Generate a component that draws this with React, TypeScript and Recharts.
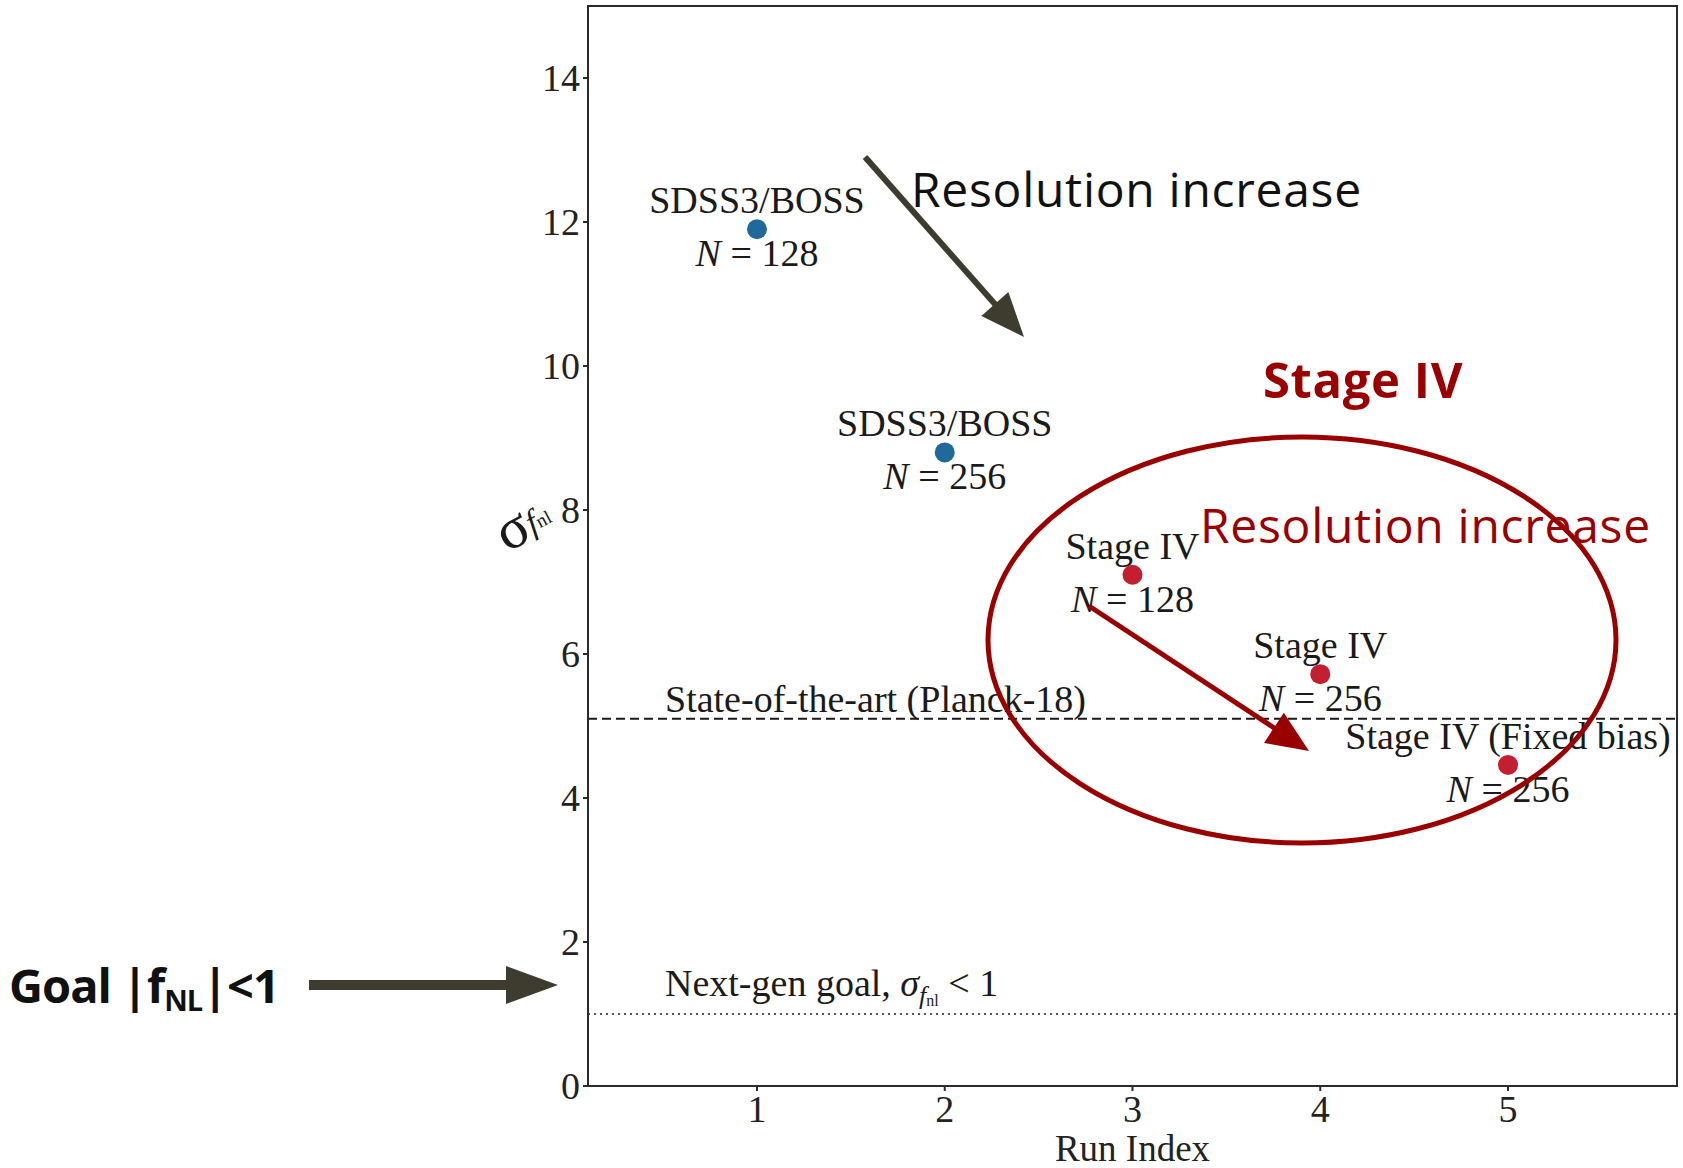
import {
  ReferenceArea,
  ReferenceLine,
  Scatter,
  ScatterChart,
  XAxis,
  YAxis,
} from 'recharts'

// values
const runIndex = [1, 2, 3, 4, 5]
const sigmaFnl = [11.9, 8.8, 7.1, 5.72, 4.46]
const surveyLabels = ['SDSS3/BOSS', 'SDSS3/BOSS', 'Stage IV', 'Stage IV', 'Stage IV (Fixed bias)']
const meshSizes = [128, 256, 128, 256, 256]
const xTicks = [1, 2, 3, 4, 5]
const yTicks = [0, 2, 4, 6, 8, 10, 12, 14]
const planckSigma = 5.1
const nextGenSigma = 1

const W = 1683
const H = 1168
const X_DOMAIN: [number, number] = [0.1, 5.9]
const Y_DOMAIN: [number, number] = [0, 15]
const SERIF = '"Liberation Serif", "DejaVu Serif", serif'
const SANS = '"Open Sans", "Noto Sans", sans-serif'
const AXIS_COLOR = '#2b2b2b'
const DARK_RED = '#990000'
const OLIVE = '#3d3c2e'

const data = runIndex.map((x, i) => ({
  x,
  y: sigmaFnl[i],
  survey: surveyLabels[i],
  n: meshSizes[i],
}))

const TICK = { fontSize: 38, fontFamily: SERIF, fill: '#222' }

function PointMark(props: any) {
  const { cx, cy, payload } = props
  if (cx == null || cy == null) return null
  const color = payload.survey.startsWith('SDSS') ? '#1f6a9a' : '#c41f30'
  return (
    <g>
      <text x={cx} y={cy - 16} textAnchor="middle" fontFamily={SERIF} fontSize={38} fill="#1a1a1a">
        {payload.survey}
      </text>
      <circle cx={cx} cy={cy} r={10} fill={color} />
      <text x={cx} y={cy + 37} textAnchor="middle" fontFamily={SERIF} fontSize={38} fill="#1a1a1a">
        <tspan fontStyle="italic">N</tspan>
        <tspan> = {payload.n}</tspan>
      </text>
    </g>
  )
}

function PlanckLabel(props: any) {
  const { viewBox } = props
  return (
    <text x={viewBox.x + 77} y={viewBox.y - 7} fontFamily={SERIF} fontSize={38} fill="#1a1a1a">
      State-of-the-art (Planck-18)
    </text>
  )
}

function NextGenLabel(props: any) {
  const { viewBox } = props
  return (
    <text x={viewBox.x + 77} y={viewBox.y - 18} fontFamily={SERIF} fontSize={38} fill="#1a1a1a">
      Next-gen goal, <tspan fontStyle="italic">σ</tspan>
      <tspan fontStyle="italic" fontSize={26} dy={8}>f</tspan>
      <tspan fontSize={16} dy={2}>nl</tspan>
      <tspan dy={-10}> {'<'} 1</tspan>
    </text>
  )
}

function YLabel() {
  return (
    <g transform="translate(522 522) rotate(-28)">
      <text x={0} y={0} textAnchor="middle" dominantBaseline="central" fontFamily={SERIF} fill="#1a1a1a">
        <tspan fontSize={58}>σ</tspan>
        <tspan fontSize={34} fontStyle="italic" dy={4}>f</tspan>
        <tspan fontSize={19} dy={3}>nl</tspan>
      </text>
    </g>
  )
}

// straight arrow with a filled triangular head
function Arrow({ x1, y1, x2, y2, color, width, head, half }: any) {
  const dx = x2 - x1
  const dy = y2 - y1
  const len = Math.hypot(dx, dy)
  const ux = dx / len
  const uy = dy / len
  const bx = x2 - ux * head
  const by = y2 - uy * head
  const px = -uy * half
  const py = ux * half
  return (
    <g>
      <line x1={x1} y1={y1} x2={bx + ux * 2} y2={by + uy * 2} stroke={color} strokeWidth={width} />
      <polygon points={`${x2},${y2} ${bx + px},${by + py} ${bx - px},${by - py}`} fill={color} />
    </g>
  )
}

function Annotations() {
  return (
    <svg
      width={W}
      height={H}
      style={{ position: 'absolute', left: 0, top: 0, pointerEvents: 'none' }}
    >
      <YLabel />

      <Arrow x1={865} y1={157} x2={1024} y2={337} color={OLIVE} width={6} head={44} half={18} />
      <text x={911} y={188} dominantBaseline="central" fontFamily={SANS} fontSize={48} letterSpacing={0.7} fill="#111">
        Resolution increase
      </text>

      <text x={1263} y={379} dominantBaseline="central" fontFamily={SANS} fontWeight={700} fontSize={49} letterSpacing={0.6} fill={DARK_RED}>
        Stage IV
      </text>
      <ellipse cx={1302} cy={640} rx={314} ry={203} fill="none" stroke={DARK_RED} strokeWidth={5} />
      <text x={1200} y={524} dominantBaseline="central" fontFamily={SANS} fontSize={48} letterSpacing={0.7} fill={DARK_RED}>
        Resolution increase
      </text>
      <Arrow x1={1089} y1={606} x2={1309} y2={751} color={DARK_RED} width={5} head={42} half={18} />

      <text x={9} y={985} dominantBaseline="central" fontFamily={SANS} fontWeight={700} fontSize={47} letterSpacing={-1} fill="#111">
        Goal |f<tspan fontSize={29} dy={14}>NL</tspan>
        <tspan dy={-14}>|{'<'}1</tspan>
      </text>
      <Arrow x1={309} y1={985} x2={558} y2={985} color={OLIVE} width={10} head={52} half={19} />
    </svg>
  )
}

export default function App() {
  return (
    <div style={{ position: 'absolute', left: 0, top: 0, width: W, height: H, background: '#fff' }}>
      <ScatterChart width={W} height={H} margin={{ top: 6, right: 6, left: 0, bottom: 0 }}>
        <XAxis
          type="number"
          dataKey="x"
          domain={X_DOMAIN}
          ticks={xTicks}
          allowDataOverflow
          height={82}
          tick={TICK}
          tickSize={5}
          tickMargin={4}
          stroke={AXIS_COLOR}
          strokeWidth={2}
          label={{ value: 'Run Index', position: 'insideBottom', offset: 7, style: { fontSize: 37, fontFamily: SERIF, fill: '#222' } }}
        />
        <YAxis
          type="number"
          dataKey="y"
          domain={Y_DOMAIN}
          ticks={yTicks}
          allowDataOverflow
          width={588}
          tick={TICK}
          tickSize={5}
          tickMargin={3}
          stroke={AXIS_COLOR}
          strokeWidth={2}
        />
        <ReferenceArea
          x1={X_DOMAIN[0]}
          x2={X_DOMAIN[1]}
          y1={Y_DOMAIN[0]}
          y2={Y_DOMAIN[1]}
          fill="none"
          fillOpacity={0}
          stroke={AXIS_COLOR}
          strokeWidth={2}
        />
        <ReferenceLine y={planckSigma} stroke="#1a1a1a" strokeWidth={2} strokeDasharray="9 5" label={<PlanckLabel />} />
        <ReferenceLine y={nextGenSigma} stroke="#555" strokeWidth={2} strokeDasharray="2 4" label={<NextGenLabel />} />
        <Scatter data={data} shape={<PointMark />} isAnimationActive={false} />
      </ScatterChart>
      <Annotations />
    </div>
  )
}
